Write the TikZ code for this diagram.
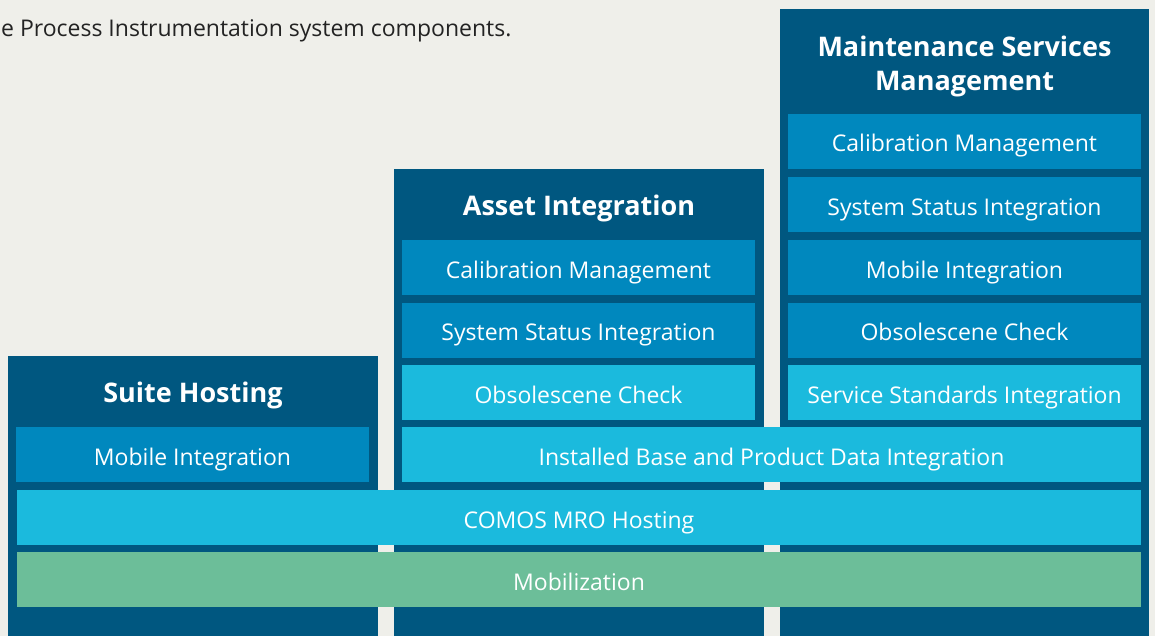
\documentclass[tikz,border=0pt]{standalone}
\usepackage{fontspec}
\setmainfont{Open Sans}
\definecolor{bgray}{RGB}{239,239,234}
\definecolor{deepblue}{RGB}{0,87,128}
\definecolor{midblue}{RGB}{0,136,190}
\definecolor{lightblue}{RGB}{27,186,221}
\definecolor{mintgreen}{RGB}{108,190,153}
\definecolor{textgray}{RGB}{35,35,35}
\begin{document}
\begin{tikzpicture}[x=1pt, y=-1pt,
    column/.style={fill=deepblue},
    head/.style={text=white, inner sep=0pt, font=\bfseries\fontsize{27}{34}\selectfont, align=center},
    box/.style={minimum width=353pt, minimum height=55pt, inner sep=0pt, text height=21pt, text depth=0pt, text=white, font=\fontsize{23}{26}\selectfont},
    wide/.style={box, minimum width=739pt},
    full/.style={box, minimum width=1124pt}]
  \fill[bgray] (0,0) rectangle (1155,636);
  \useasboundingbox (0,0) rectangle (1155,636);
  \node[anchor=base west, inner sep=0pt, text=textgray, font=\fontsize{23}{26}\selectfont] (intro) at (1,37) {e Process Instrumentation system components.};
  % the three columns
  \fill[column] (8,356) rectangle (378,636);
  \fill[column] (394,169) rectangle (764,636);
  \fill[column] (780,9) rectangle (1149,636);
  \node[head, anchor=base] (suite) at (193,402.5) {Suite Hosting};
  \node[head, anchor=base] (asset) at (579,216) {Asset Integration};
  \node[head] (maint) at (964.5,66) {Maintenance Services\\Management};
  % asset integration
  \node[box, fill=midblue] (acal) at (578.5,267.5) {Calibration Management};
  \node[box, fill=midblue] (asys) at (578.5,330) {System Status Integration};
  \node[box, fill=lightblue] (aobs) at (578.5,392.5) {Obsolescene Check};
  % maintenance services management
  \node[box, fill=midblue] (mcal) at (964.5,141.5) {Calibration Management};
  \node[box, fill=midblue] (msys) at (964.5,204.5) {System Status Integration};
  \node[box, fill=midblue] (mmob) at (964.5,267.5) {Mobile Integration};
  \node[box, fill=midblue] (mobs) at (964.5,330) {Obsolescene Check};
  \node[box, fill=lightblue] (mstd) at (964.5,392.5) {Service Standards Integration};
  % suite hosting
  \node[box, fill=midblue] (smob) at (192.5,454.5) {Mobile Integration};
  % shared layers
  \node[wide, fill=lightblue] (base) at (771.5,454.5) {Installed Base and Product Data Integration};
  \node[full, fill=lightblue] (comos) at (579,517.5) {COMOS MRO Hosting};
  \node[full, fill=mintgreen] (mobil) at (579,579.5) {Mobilization};
\end{tikzpicture}
\end{document}
